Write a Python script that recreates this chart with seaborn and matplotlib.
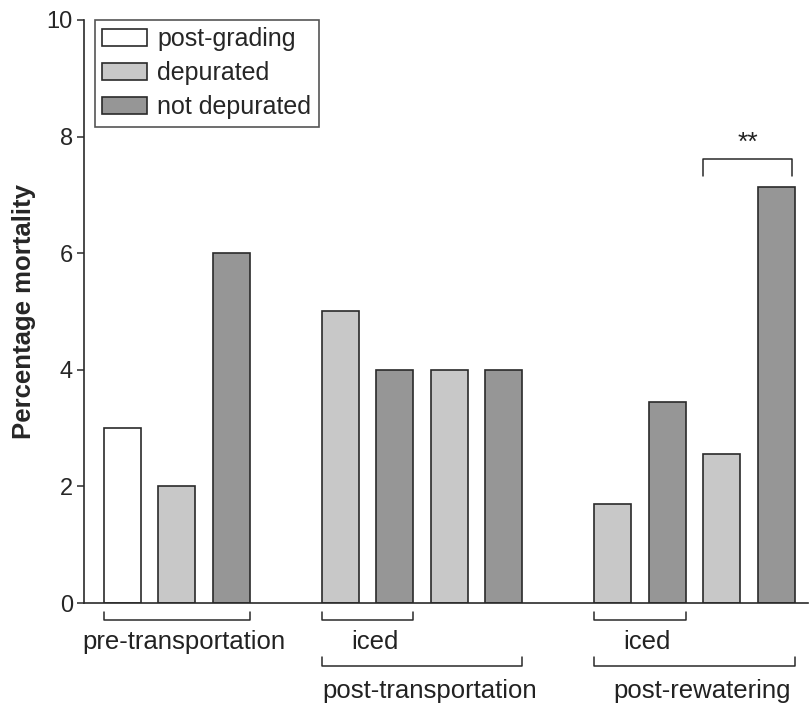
import numpy as np
import pandas as pd
import matplotlib
matplotlib.use("Agg")
import matplotlib.pyplot as plt
from matplotlib.patches import Patch
import seaborn as sns

# bar data (slot position, value, condition)
positions = [0, 1, 2, 4, 5, 6, 7, 9, 10, 11, 12]
mortality = [3.0, 2.0, 6.0, 5.0, 4.0, 4.0, 4.0, 1.7, 3.45, 2.55, 7.14]
condition = ["post-grading", "depurated", "not depurated",
             "depurated", "not depurated", "depurated", "not depurated",
             "depurated", "not depurated", "depurated", "not depurated"]
legend_labels = ["post-grading", "depurated", "not depurated"]
bar_colors = {"post-grading": "#ffffff", "depurated": "#c8c8c8", "not depurated": "#969696"}

# brackets below the axis: (first slot, last slot, level, label)
brackets = [(0, 2, 1, "pre-transportation"),
            (4, 5, 1, "iced"),
            (4, 7, 2, "post-transportation"),
            (9, 10, 1, "iced"),
            (9, 12, 2, "post-rewatering")]

df = pd.DataFrame({"pos": positions, "value": mortality, "cond": condition})

sns.set_style("ticks")
plt.rcParams["font.family"] = ["Liberation Sans", "DejaVu Sans"]

fig = plt.figure(figsize=(8.09, 7.09), dpi=100)
ax = fig.add_axes([0.1038, 0.1495, 0.8952, 0.8223])

edge = "#2a2a2a"
bw = 0.68
sns.barplot(data=df, x="pos", y="value", hue="cond", native_scale=True, dodge=False,
            palette=bar_colors, width=bw, edgecolor=edge, linewidth=1.2,
            legend=False, ax=ax)

ax.set_xlim(-0.70, 12.59)
ax.set_ylim(0, 10)
ax.set_yticks([0, 2, 4, 6, 8, 10])
ax.set_xticks([])
ax.set_xlabel("")
ax.set_ylabel("Percentage mortality", fontsize=18.5, fontweight="bold", labelpad=8)
ax.tick_params(axis="y", labelsize=17, length=5, width=1.1, color=edge, pad=3)
for s in ["top", "right"]:
    ax.spines[s].set_visible(False)
for s in ["left", "bottom"]:
    ax.spines[s].set_linewidth(1.2)
    ax.spines[s].set_color(edge)

# group brackets under the axis
lvl_y = {1: (-0.16, -0.30, -0.67), 2: (-0.93, -1.08, -1.51)}
for a, b, lvl, txt in brackets:
    y0, y1, yt = lvl_y[lvl]
    x0, x1 = a - bw / 2, b + bw / 2
    ax.plot([x0, x0, x1, x1], [y0, y1, y1, y0], color=edge, lw=1.1, clip_on=False)
    xc = (x0 + x1) / 2 + 0.14
    ax.text(xc, yt, txt, ha="center", va="center", fontsize=18.5, color="#222222")

# significance bracket
ax.plot([10.66, 10.66, 12.3, 12.3], [7.33, 7.62, 7.62, 7.33], color=edge, lw=1.1)
ax.text(11.48, 7.9, "**", ha="center", va="center", fontsize=19, color="#222222")

handles = [Patch(facecolor=bar_colors[k], edgecolor=edge, linewidth=1.2) for k in legend_labels]
leg = ax.legend(handles, legend_labels, loc="upper left", bbox_to_anchor=(0.015, 1.0),
                borderaxespad=0, fontsize=18, frameon=True, fancybox=False,
                handlelength=1.8, handleheight=0.65, handletextpad=0.4,
                labelspacing=0.4, borderpad=0.3)
leg.get_frame().set_edgecolor(edge)
leg.get_frame().set_linewidth(1.2)

fig.savefig("out.png", dpi=100)
